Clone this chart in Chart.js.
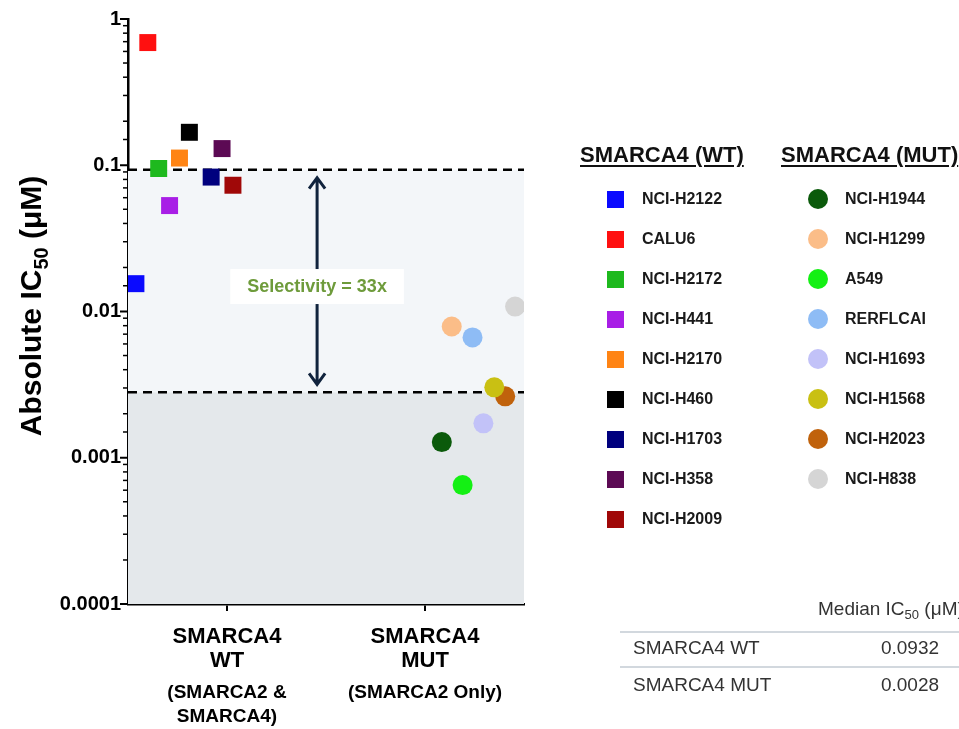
<!DOCTYPE html>
<html>
<head>
<meta charset="utf-8">
<title>Absolute IC50 by SMARCA4 status</title>
<script src="https://cdn.jsdelivr.net/npm/chart.js"></script>
<style>
  body { margin: 0; background: #fff; font-family: "Liberation Sans", Arial, sans-serif; }
  #wrap { position: relative; width: 959px; height: 729px; overflow: hidden; }
  #chart { position: absolute; left: 0; top: 0; }
  .hdr { position: absolute; font-weight: bold; font-size: 22px; color: #111; text-decoration: underline;
         text-underline-offset: 3px; white-space: nowrap; transform: translateY(-50%); }
  .lbl { position: absolute; font-weight: bold; font-size: 16px; color: #1a1a1a; white-space: nowrap; transform: translateY(-50%); }
  .mk { position: absolute; }
  .tbl { position: absolute; font-size: 19px; color: #333; white-space: nowrap; transform: translateY(-50%); }
  .rule { position: absolute; height: 1.5px; background: #d2d8de; }
</style>
</head>
<body>
<div id="wrap">
  <canvas id="chart" width="959" height="729"></canvas>
  <div id="legend"></div>
  <div id="table"></div>
</div>
<script>
const FONT = '"Liberation Sans", Arial, sans-serif';

// categories on the x axis
const catLabels = [['SMARCA4', 'WT'], ['SMARCA4', 'MUT']];
const catNotes = [['(SMARCA2 &', 'SMARCA4)'], ['(SMARCA2 Only)']];

// SMARCA4 wild type cell lines (squares)
const wtLines = ['NCI-H2122', 'CALU6', 'NCI-H2172', 'NCI-H441', 'NCI-H2170', 'NCI-H460', 'NCI-H1703', 'NCI-H358', 'NCI-H2009'];
const wtIC50 = [0.0155, 0.69, 0.095, 0.053, 0.112, 0.168, 0.083, 0.13, 0.073];
const wtX = [0.54, 0.6, 0.655, 0.71, 0.76, 0.81, 0.92, 0.975, 1.03];
const wtColors = ['#0a0aff', '#ff1010', '#1eb91e', '#a81ee6', '#ff8414', '#000000', '#00007e', '#5c0a54', '#a00808'];

// SMARCA4 mutant cell lines (circles)
const mutLines = ['NCI-H1944', 'NCI-H1299', 'A549', 'RERFLCAI', 'NCI-H1693', 'NCI-H1568', 'NCI-H2023', 'NCI-H838'];
const mutIC50 = [0.00128, 0.0079, 0.00065, 0.00665, 0.00172, 0.00303, 0.00263, 0.0108];
const mutX = [2.085, 2.135, 2.19, 2.24, 2.295, 2.35, 2.405, 2.455];
const mutColors = ['#0b5a0b', '#fbbd88', '#14f014', '#8ebcf5', '#c2c2f8', '#c9c013', '#c0620c', '#d5d5d5'];

// y axis ticks
const yTicks = [0.0001, 0.001, 0.01, 0.1, 1];
const yTickLabels = ['0.0001', '0.001', '0.01', '0.1', '1'];

// medians (dashed lines) and the table
const medians = [0.0932, 0.0028];
const tableRows = ['SMARCA4 WT', 'SMARCA4 MUT'];
const tableValues = ['0.0932', '0.0028'];
const selectivityText = 'Selectivity = 33x';
const arrowX = 1.455;

function majorIndex(v) {
  return yTicks.findIndex(t => Math.abs(Math.log10(v) - Math.log10(t)) < 1e-6);
}

const datasets = [];
wtLines.forEach((name, i) => {
  datasets.push({
    label: name,
    data: [{ x: wtX[i], y: wtIC50[i] }],
    pointStyle: 'rect',
    pointRadius: 12,
    backgroundColor: wtColors[i],
    borderWidth: 0
  });
});
mutLines.forEach((name, i) => {
  datasets.push({
    label: name,
    data: [{ x: mutX[i], y: mutIC50[i] }],
    pointStyle: 'circle',
    pointRadius: 10,
    backgroundColor: mutColors[i],
    borderWidth: 0
  });
});

// shaded bands, median lines and selectivity arrow
const bandPlugin = {
  id: 'bands',
  beforeDatasetsDraw(chart) {
    const { ctx, chartArea: a, scales: { x, y } } = chart;
    const yHi = y.getPixelForValue(medians[0]);
    const yLo = y.getPixelForValue(medians[1]);
    ctx.save();
    ctx.fillStyle = '#f3f6f9';
    ctx.fillRect(a.left, yHi, a.right - a.left, yLo - yHi);
    ctx.fillStyle = '#e4e8eb';
    ctx.fillRect(a.left, yLo, a.right - a.left, a.bottom - yLo);

    ctx.setLineDash([9, 6]);
    ctx.lineWidth = 2.5;
    ctx.strokeStyle = '#000';
    [yHi, yLo].forEach(py => {
      ctx.beginPath();
      ctx.moveTo(a.left, py);
      ctx.lineTo(a.right, py);
      ctx.stroke();
    });
    ctx.setLineDash([]);

    // double arrow
    const ax = x.getPixelForValue(arrowX);
    const top = yHi + 8, bot = yLo - 8;
    ctx.strokeStyle = '#10233d';
    ctx.lineWidth = 3;
    ctx.beginPath();
    ctx.moveTo(ax, top); ctx.lineTo(ax, bot);
    ctx.moveTo(ax - 8, top + 11); ctx.lineTo(ax, top); ctx.lineTo(ax + 8, top + 11);
    ctx.moveTo(ax - 8, bot - 11); ctx.lineTo(ax, bot); ctx.lineTo(ax + 8, bot - 11);
    ctx.stroke();

    // label box
    ctx.font = 'bold 18px ' + FONT;
    const tw = ctx.measureText(selectivityText).width;
    const my = (top + bot) / 2 + 6;
    ctx.fillStyle = '#ffffff';
    ctx.fillRect(ax - tw / 2 - 17, my - 18, tw + 34, 35);
    ctx.fillStyle = '#6e9b3b';
    ctx.textAlign = 'center';
    ctx.textBaseline = 'middle';
    ctx.fillText(selectivityText, ax, my);
    ctx.restore();
  }
};

// axis titles, category labels and log minor ticks
const axisPlugin = {
  id: 'axisText',
  afterDraw(chart) {
    const { ctx, chartArea: a, scales: { x, y } } = chart;
    ctx.save();
    ctx.strokeStyle = '#000';
    y.ticks.forEach(t => {
      const py = y.getPixelForValue(t.value);
      const major = majorIndex(t.value) >= 0;
      ctx.lineWidth = major ? 2 : 1.5;
      ctx.beginPath();
      ctx.moveTo(a.left - (major ? 8 : 5), py);
      ctx.lineTo(a.left, py);
      ctx.stroke();
    });

    ctx.fillStyle = '#000';
    ctx.textAlign = 'center';
    ctx.textBaseline = 'middle';
    catLabels.forEach((lines, i) => {
      const px = x.getPixelForValue(i + 1);
      ctx.font = 'bold 22px ' + FONT;
      lines.forEach((s, j) => ctx.fillText(s, px, 637 + j * 24));
      ctx.font = 'bold 19px ' + FONT;
      catNotes[i].forEach((s, j) => ctx.fillText(s, px, 693 + j * 24));
    });

    // rotated y title with subscript
    const parts = [['Absolute IC', 'bold 30px ' + FONT, 0], ['50', 'bold 20px ' + FONT, 7], [' (\u03bcM)', 'bold 30px ' + FONT, 0]];
    let total = 0;
    parts.forEach(p => { ctx.font = p[1]; total += ctx.measureText(p[0]).width; });
    ctx.translate(30, 306);
    ctx.rotate(-Math.PI / 2);
    ctx.textAlign = 'left';
    ctx.textBaseline = 'alphabetic';
    let cx = -total / 2;
    parts.forEach(p => {
      ctx.font = p[1];
      ctx.fillText(p[0], cx, 11 + p[2]);
      cx += ctx.measureText(p[0]).width;
    });
    ctx.restore();
  }
};

new Chart(document.getElementById('chart'), {
  type: 'scatter',
  data: { datasets },
  options: {
    responsive: false,
    animation: false,
    layout: { padding: { top: 16, right: 435, bottom: 0, left: 0 } },
    plugins: { legend: { display: false }, tooltip: { enabled: false } },
    scales: {
      x: {
        type: 'linear',
        min: 0.5,
        max: 2.5,
        afterBuildTicks: s => { s.ticks = [{ value: 1 }, { value: 2 }]; },
        ticks: { display: false },
        grid: { drawOnChartArea: false, drawTicks: true, tickLength: 7, color: '#000', lineWidth: 2 },
        border: { display: true, color: '#000', width: 2.5 },
        afterFit: s => { s.height = 125; }
      },
      y: {
        type: 'logarithmic',
        min: 0.0001,
        max: 1,
        ticks: {
          autoSkip: false,
          padding: 7,
          color: '#000',
          font: { family: FONT, size: 20, weight: 'bold' },
          callback: v => {
            const i = majorIndex(v);
            return i >= 0 ? yTickLabels[i] : '';
          }
        },
        grid: { display: false, drawTicks: false },
        border: { display: true, color: '#000', width: 2.5 },
        afterFit: s => { s.width = 128; }
      }
    }
  },
  plugins: [bandPlugin, axisPlugin]
});

// legend built from the same arrays
const legend = document.getElementById('legend');
function addLegendColumn(title, names, colors, round, left, markX, textX) {
  let html = `<div class="hdr" style="left:${left}px;top:155px">${title}</div>`;
  names.forEach((n, i) => {
    const cy = 199 + i * 40;
    const size = round ? 20 : 17;
    html += `<div class="mk" style="left:${markX - size / 2}px;top:${cy - size / 2}px;width:${size}px;height:${size}px;` +
            `background:${colors[i]};border-radius:${round ? '50%' : '0'}"></div>`;
    html += `<div class="lbl" style="left:${textX}px;top:${cy}px">${n}</div>`;
  });
  legend.insertAdjacentHTML('beforeend', html);
}
addLegendColumn('SMARCA4 (WT)', wtLines, wtColors, false, 580, 615, 642);
addLegendColumn('SMARCA4 (MUT)', mutLines, mutColors, true, 781, 818, 845);

// median table
const table = document.getElementById('table');
let th = `<div class="tbl" style="left:818px;top:610px">Median IC<sub style="font-size:13px">50</sub> (\u03bcM)</div>`;
th += `<div class="rule" style="left:620px;width:339px;top:631px"></div>`;
tableRows.forEach((r, i) => {
  const cy = 648 + i * 37;
  th += `<div class="tbl" style="left:633px;top:${cy}px">${r}</div>`;
  th += `<div class="tbl" style="left:910px;top:${cy}px;transform:translate(-50%,-50%)">${tableValues[i]}</div>`;
  if (i === 0) th += `<div class="rule" style="left:620px;width:339px;top:666px"></div>`;
});
table.innerHTML = th;
</script>
</body>
</html>
